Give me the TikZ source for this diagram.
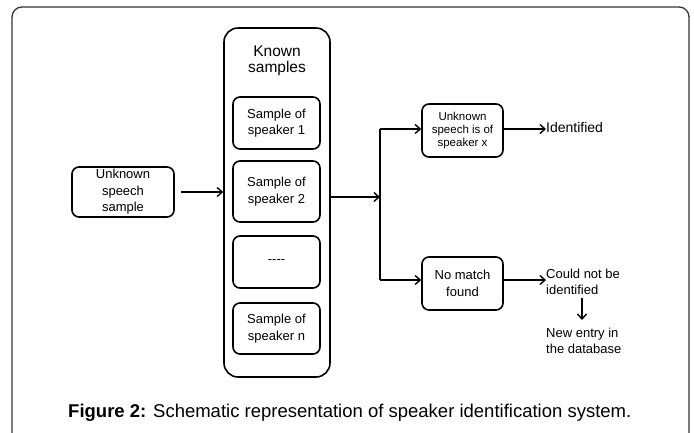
\documentclass[tikz,border=0pt]{standalone}
\usepackage{fontspec}
\setmainfont{Liberation Sans}
\usetikzlibrary{arrows.meta}
\begin{document}
\begin{tikzpicture}[x=1pt,y=-1pt,
  box/.style={draw,line width=1.6pt,rounded corners=7pt,align=center,inner sep=0pt},
  arr/.style={line width=1.6pt,-{Straight Barb[length=5pt,width=9pt,line width=1.4pt]}},
  txt/.style={font=\fontsize{13}{16.5}\selectfont,align=center}]
\useasboundingbox (0,0) rectangle (694,432);
\begin{scope}
\clip (0,0) rectangle (694,432);
\draw[line width=1.3pt,draw=black!80,rounded corners=10pt] (12,450) -- (12,7) -- (689,7) -- (689,450);
\end{scope}
% left box
\node[box,minimum width=102pt,minimum height=50pt,txt] (u) at (123,192) {Unknown\\speech\\sample};
% big box
\node[box,minimum width=106pt,minimum height=349pt,rounded corners=14pt] (k) at (277,202.5) {};
\node[align=center,font=\fontsize{15.5}{16}\selectfont] (kt) at (277,61) {Known\\samples};
\node[box,minimum width=87pt,minimum height=52pt,txt] (s1) at (276.5,123) {Sample of\\speaker 1};
\node[box,minimum width=87pt,minimum height=61pt,txt] (s2) at (276.5,191.5) {Sample of\\speaker 2};
\node[box,minimum width=87pt,minimum height=52pt,txt] (s3) at (276.5,262) {{-}{-}{-}{-}};
\node[box,minimum width=87pt,minimum height=51pt,txt] (s4) at (276.5,328.5) {Sample of\\speaker n};
\draw[arr] (u.east)+(6,0) coordinate (ua) -- (k.west|-ua);
% branch
\coordinate (br) at (380,197);
\draw[arr] (k.east|-br) -- (br);
\node[box,minimum width=81pt,minimum height=53pt,font=\fontsize{11.5}{13}\selectfont] (x) at (462.5,130.5) {Unknown\\speech is of\\speaker x};
\node[box,minimum width=81pt,minimum height=53pt,txt] (nm) at (462.5,283.5) {No match\\found};
\coordinate (bt) at (380,129);
\coordinate (bb) at (380,280);
\draw[line width=1.6pt] (bt) -- (bb);
\draw[arr] (bt) -- (x.west|-bt);
\draw[arr] (bb) -- (nm.west|-bb);
\node[anchor=west,inner sep=0pt,font=\fontsize{14}{15}\selectfont] (id) at (546,127) {Identified};
\draw[arr] (x.east|-bt) -- (id.west|-bt);
\node[anchor=west,inner sep=0pt,align=left,font=\fontsize{13}{16}\selectfont] (cn) at (546,282) {Could not be\\identified};
\draw[arr] (x.east|-bb) -- (cn.west|-bb);
\node[anchor=west,inner sep=0pt,align=left,font=\fontsize{13}{15.5}\selectfont] (ne) at (546,341) {New entry in\\the database};
\coordinate (d1) at (582,298);
\draw[arr] (d1) -- (582,320);
% caption
\node[anchor=west,inner sep=0pt,font=\fontsize{18.5}{20}\selectfont] (cap) at (68,413) {\textbf{Figure 2:} Schematic representation of speaker identification system.};
\end{tikzpicture}
\end{document}
